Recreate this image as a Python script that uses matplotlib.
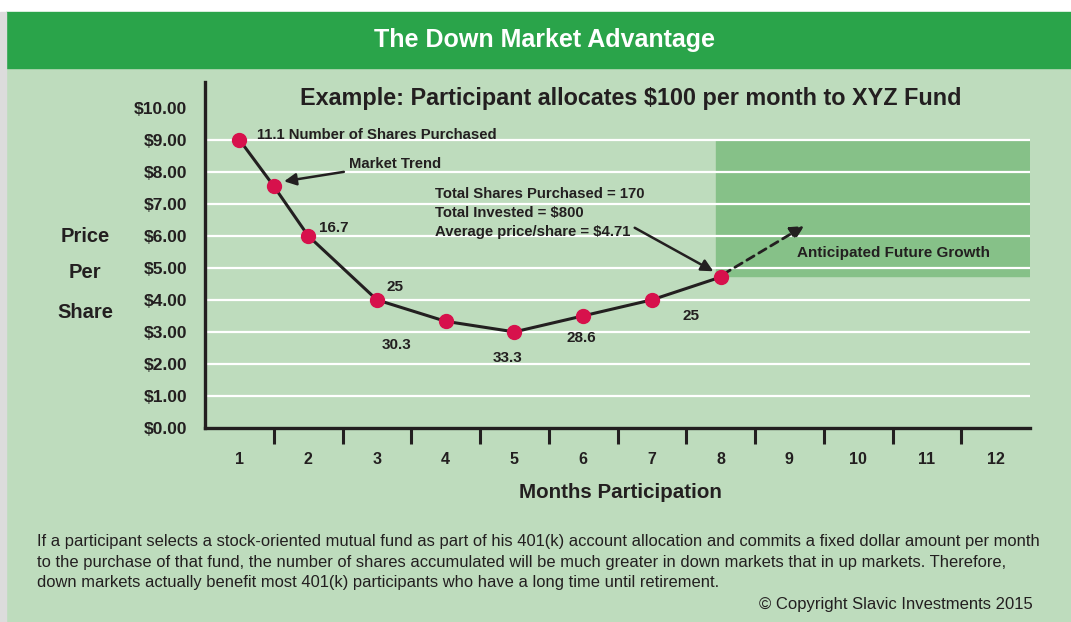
import matplotlib.pyplot as plt
from matplotlib.patches import Rectangle

# data
months = [1, 1.5, 2, 3, 4, 5, 6, 7, 8]
prices = [9.0, 7.55, 6.0, 4.0, 3.33, 3.0, 3.5, 4.0, 4.71]
share_labels = ['16.7', '25', '30.3', '33.3', '28.6', '25']
label_pos = [(2.38, 6.25), (3.26, 4.4), (3.29, 2.6), (4.9, 2.2), (5.97, 2.8), (7.57, 3.5)]
ytick_vals = list(range(11))
ytick_labels = ['$%d.00' % v for v in ytick_vals]
xtick_labels = [str(m) for m in range(1, 13)]

bg = '#bedcbd'
header = '#2aa44a'
rect_green = '#86c188'
dot = '#d7114c'
ink = '#231f20'
plt.rcParams['font.family'] = ['Liberation Sans', 'DejaVu Sans']

fig = plt.figure(figsize=(10.71, 6.22), dpi=100)
fig.patch.set_facecolor('white')
W, H = 1071, 622
fig.add_artist(Rectangle((6 / W, 0), 1, 1 - 68 / H, transform=fig.transFigure, color=bg, zorder=0))
fig.add_artist(Rectangle((6 / W, 1 - 68 / H), 1, 56 / H, transform=fig.transFigure, color=header, zorder=0))
fig.add_artist(Rectangle((0, 0), 6 / W, 1 - 12 / H, transform=fig.transFigure, color='#dcdcdc', zorder=0))
fig.text(544 / W, 1 - 40 / H, 'The Down Market Advantage', color='white', fontsize=18,
         fontweight='bold', ha='center', va='center')

ax = fig.add_axes([205 / W, 1 - 428 / H, 825 / W, 346 / H])
ax.set_facecolor('none')
ax.set_xlim(0.5, 12.5)
ax.set_ylim(0, 10.8)

# future growth box
ax.add_patch(Rectangle((7.93, 4.75), 12.5 - 7.93, 9 - 4.75, color=rect_green, zorder=1))
for v in range(1, 10):
    ax.axhline(v, color='white', lw=1.6, zorder=2)

ax.plot(months, prices, color=ink, lw=2.2, zorder=3)
ax.plot(months, prices, 'o', color=dot, ms=10, zorder=4)
ax.annotate('', xy=(9.25, 6.35), xytext=(8.0, 4.75),
            arrowprops=dict(arrowstyle='-|>', color=ink, lw=2, ls=(0, (3, 2)), mutation_scale=20), zorder=3)

for s in ['top', 'right']:
    ax.spines[s].set_visible(False)
for s in ['left', 'bottom']:
    ax.spines[s].set_linewidth(2.4)
    ax.spines[s].set_color(ink)

ax.set_yticks(ytick_vals)
ax.set_yticklabels(ytick_labels, fontsize=12.5, fontweight='bold', color=ink)
ax.tick_params(axis='y', length=0, pad=13)
ax.set_xticks([m + 0.5 for m in range(1, 12)])
ax.set_xticklabels([])
ax.tick_params(axis='x', length=11.5, width=2.2, color=ink)
for i, lab in enumerate(xtick_labels):
    ax.text(i + 1, -0.97, lab, ha='center', va='center', fontsize=11.5, fontweight='bold', color=ink)
ax.text(6.54, -2.0, 'Months Participation', ha='center', va='center', fontsize=14.8,
        fontweight='bold', color=ink, clip_on=False)

for t, yy in zip(['Price', 'Per', 'Share'], [236, 273, 313]):
    fig.text(85 / W, 1 - yy / H, t, ha='center', va='center', fontsize=14.5, fontweight='bold', color=ink)

ax.text(6.7, 10.27, 'Example: Participant allocates $100 per month to XYZ Fund', ha='center',
        va='center', fontsize=16.8, fontweight='bold', color=ink)

ax.text(1.25, 9.15, '11.1 Number of Shares Purchased', ha='left', va='center', fontsize=10.7,
        fontweight='bold', color=ink)
ax.annotate('Market Trend', xy=(1.65, 7.7), xytext=(2.6, 8.25), ha='left', va='center', fontsize=10.7,
            fontweight='bold', color=ink,
            arrowprops=dict(arrowstyle='-|>', color=ink, lw=1.8, mutation_scale=18, shrinkA=2, shrinkB=0))
for lab, (xx, yy) in zip(share_labels, label_pos):
    ax.text(xx, yy, lab, ha='center', va='center', fontsize=11, fontweight='bold', color=ink)

ax.text(3.85, 6.7, 'Total Shares Purchased = 170\nTotal Invested = $800\nAverage price/share = $4.71',
        ha='left', va='center', fontsize=10.7, fontweight='bold', color=ink, linespacing=1.45)
ax.annotate('', xy=(7.93, 4.85), xytext=(6.75, 6.25),
            arrowprops=dict(arrowstyle='-|>', color=ink, lw=1.8, mutation_scale=18, shrinkA=0, shrinkB=2))
ax.text(10.52, 5.47, 'Anticipated Future Growth', ha='center', va='center', fontsize=11,
        fontweight='bold', color=ink, zorder=5)

body = ('If a participant selects a stock-oriented mutual fund as part of his 401(k) account allocation and commits a fixed dollar amount per month\n'
        'to the purchase of that fund, the number of shares accumulated will be much greater in down markets that in up markets. Therefore,\n'
        'down markets actually benefit most 401(k) participants who have a long time until retirement.')
fig.text(37 / W, 1 - 562 / H, body, ha='left', va='center', fontsize=11.9,
         color=ink, linespacing=1.42)
fig.text(1033 / W, 1 - 605 / H, '\u00a9 Copyright Slavic Investments 2015', ha='right', va='center',
         fontsize=12, color=ink)

fig.savefig('out.png', dpi=100, facecolor=fig.get_facecolor())
